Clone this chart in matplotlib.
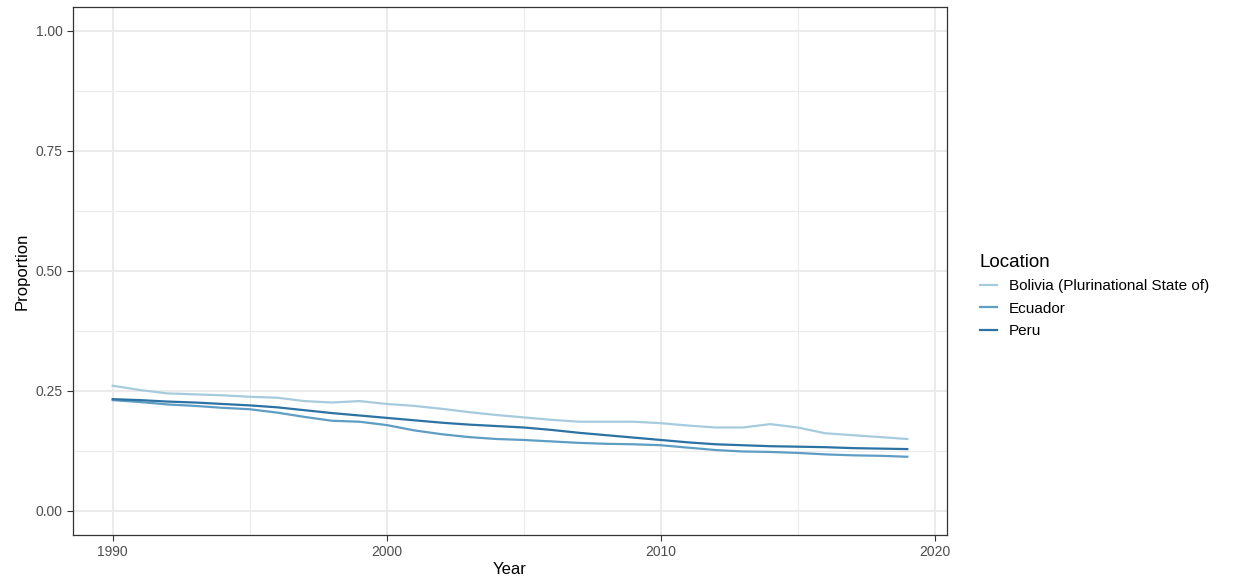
import numpy as np
import matplotlib.pyplot as plt

plt.rcParams['font.family'] = ['Liberation Sans', 'DejaVu Sans']

years = list(range(1990, 2020))
bolivia = [0.261, 0.252, 0.245, 0.243, 0.241, 0.238, 0.236, 0.229, 0.226, 0.229,
           0.223, 0.219, 0.213, 0.206, 0.200, 0.195, 0.190, 0.186, 0.186, 0.186,
           0.183, 0.178, 0.174, 0.174, 0.181, 0.174, 0.162, 0.158, 0.154, 0.150]
ecuador = [0.231, 0.227, 0.222, 0.219, 0.215, 0.212, 0.205, 0.196, 0.188, 0.186,
           0.179, 0.168, 0.160, 0.154, 0.150, 0.148, 0.145, 0.142, 0.140, 0.139,
           0.137, 0.132, 0.127, 0.124, 0.123, 0.121, 0.118, 0.116, 0.115, 0.113]
peru = [0.233, 0.231, 0.228, 0.226, 0.223, 0.220, 0.216, 0.210, 0.204, 0.199,
        0.194, 0.189, 0.184, 0.180, 0.177, 0.174, 0.169, 0.163, 0.158, 0.153,
        0.148, 0.143, 0.139, 0.137, 0.135, 0.134, 0.133, 0.131, 0.130, 0.129]

labels = ['Bolivia (Plurinational State of)', 'Ecuador', 'Peru']
colors = ['#a6cbdd', '#5e9dc4', '#2c72a3']

fig = plt.figure(figsize=(12.42, 5.86), dpi=100)
ax = fig.add_axes([73/1242, 1 - 535/586, (947-73)/1242, (535-7)/586])

for vals, lab, c in zip([bolivia, ecuador, peru], labels, colors):
    ax.plot(years, vals, color=c, lw=1.6, label=lab)

ax.set_xlim(1988.55, 2020.45)
ax.set_ylim(-0.05, 1.05)
ax.set_xticks([1990, 2000, 2010, 2020])
ax.set_xticks([1995, 2005, 2015], minor=True)
ax.set_yticks([0, 0.25, 0.5, 0.75, 1.0])
ax.set_yticks([0.125, 0.375, 0.625, 0.875], minor=True)
ax.set_yticklabels(['0.00', '0.25', '0.50', '0.75', '1.00'])
ax.grid(which='major', color='#ebebeb', lw=1.5)
ax.grid(which='minor', color='#ebebeb', lw=0.8)
ax.set_axisbelow(True)
ax.tick_params(which='major', colors='#333333', labelcolor='#4d4d4d', labelsize=10, length=4)
ax.tick_params(which='minor', length=0)
for s in ax.spines.values():
    s.set_color('#333333')
    s.set_linewidth(0.9)

ax.set_xlabel('Year', fontsize=12, labelpad=2)
ax.set_ylabel('Proportion', fontsize=12)

leg = fig.legend(loc='upper left', bbox_to_anchor=(966/1242, 1 - 240/586), frameon=False,
                 title='Location', fontsize=11, title_fontsize=13.5, handlelength=1.1,
                 handletextpad=0.8, labelspacing=0.55, alignment='left')

fig.savefig('out.png', dpi=100)
